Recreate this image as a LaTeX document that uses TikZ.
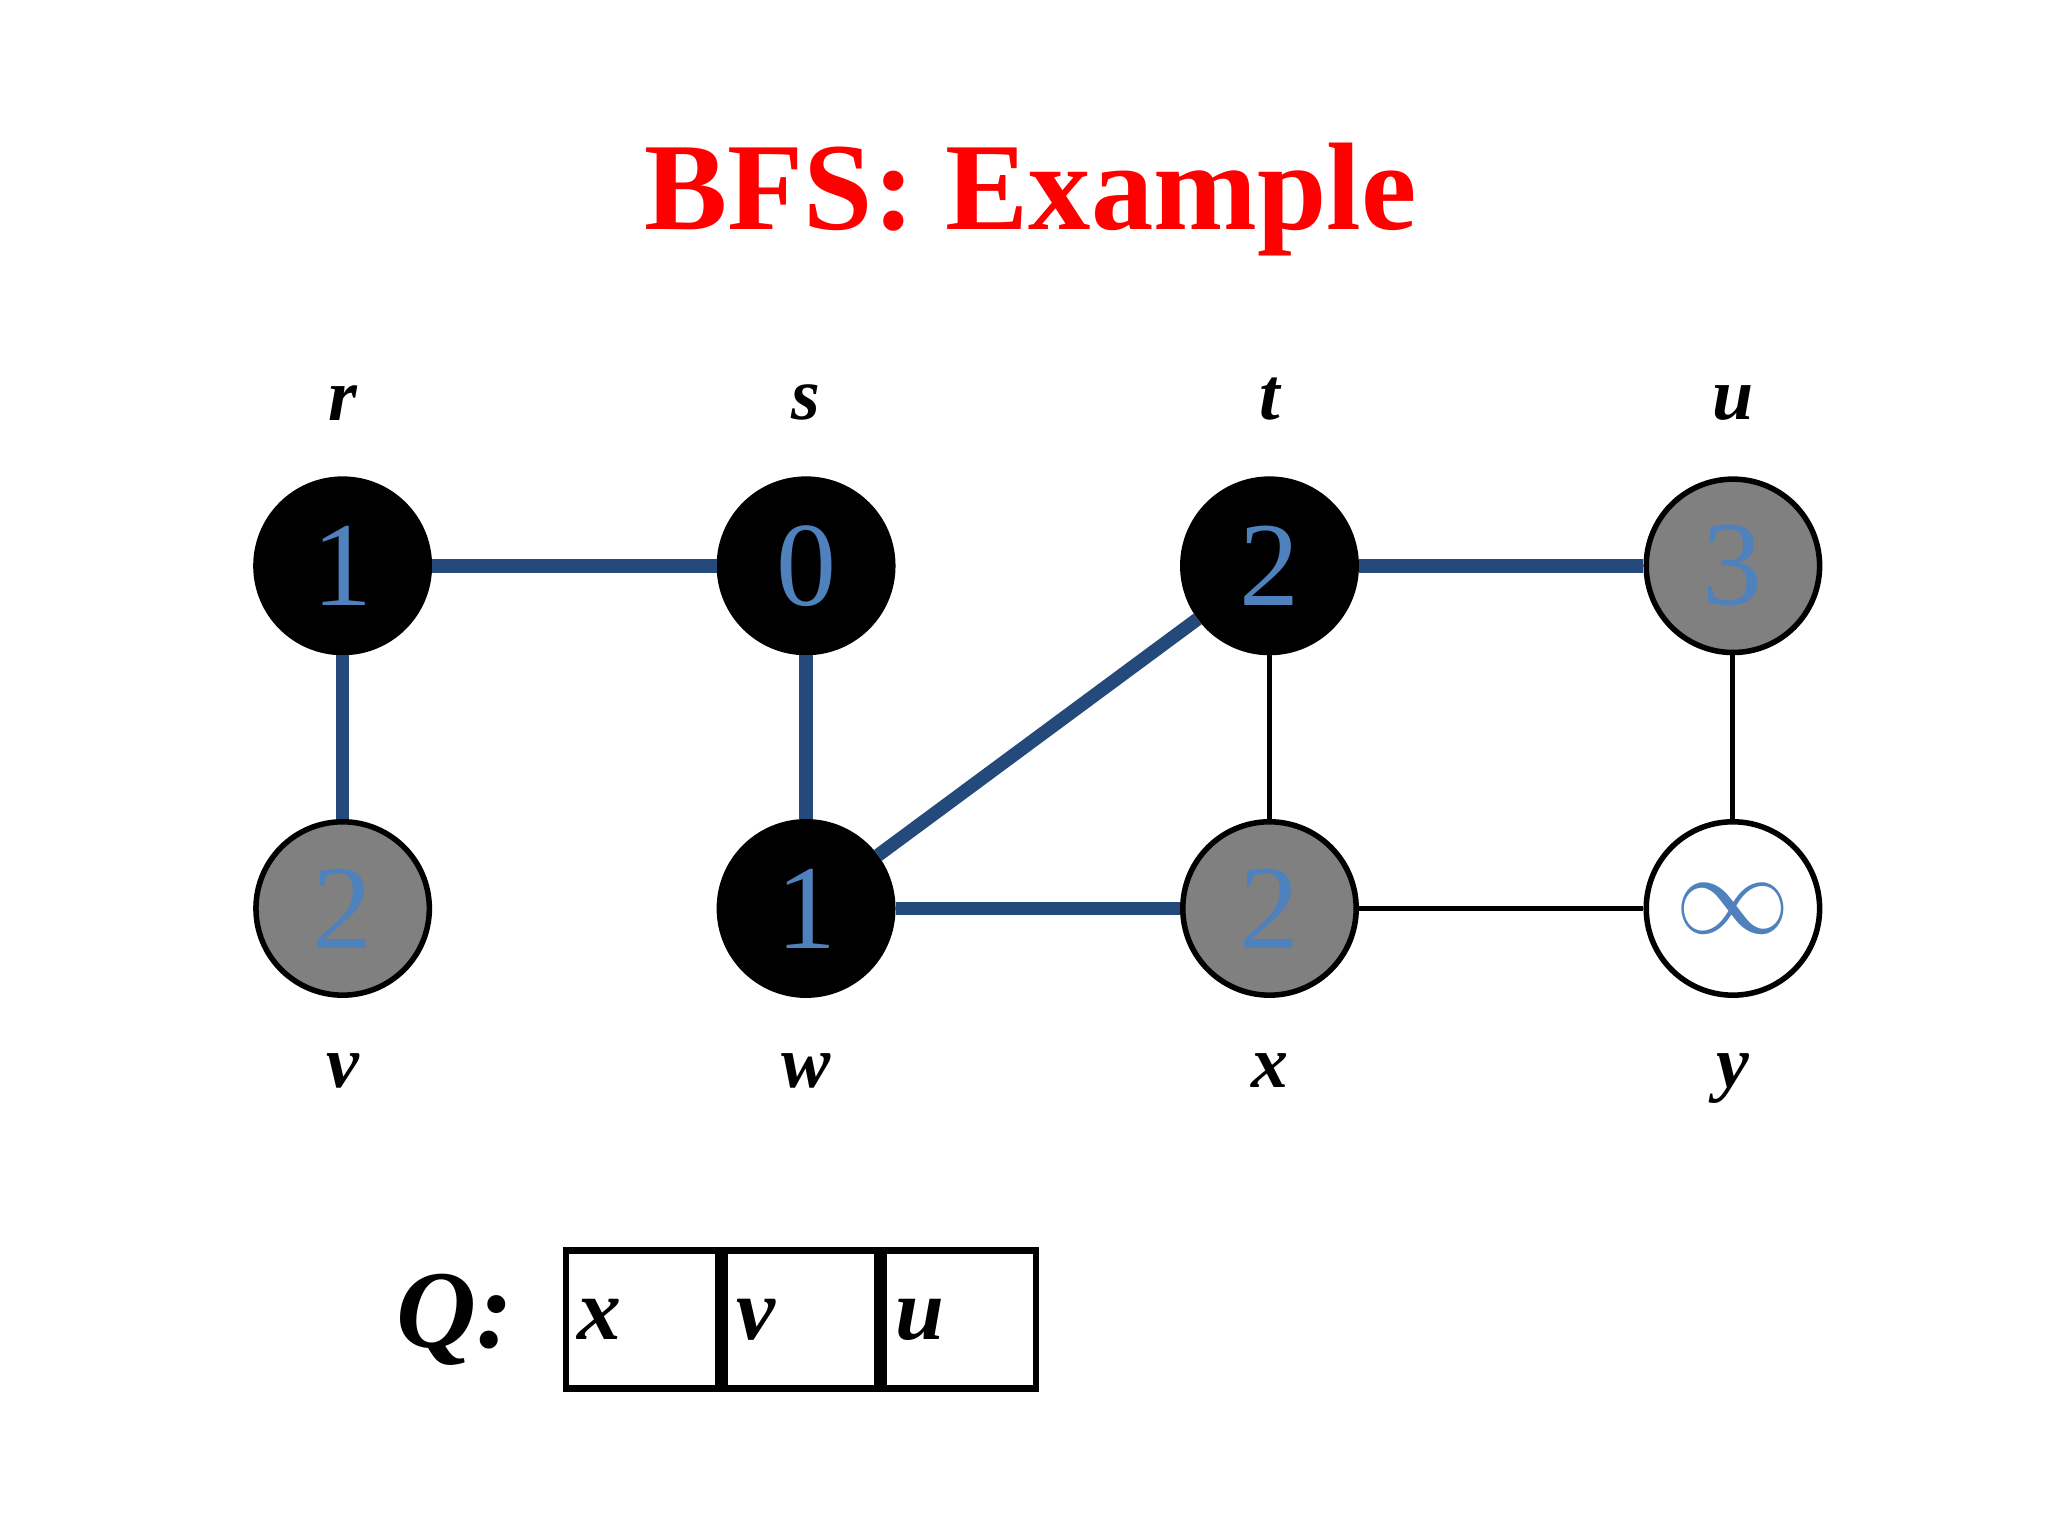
\documentclass[tikz,border=0pt]{standalone}
\usepackage{fontspec}
\setmainfont{Liberation Serif}
\usetikzlibrary{positioning}
\definecolor{treeblue}{RGB}{35,74,122}
\definecolor{numblue}{RGB}{79,129,189}
\tikzset{
  vert/.style={circle, draw=black, line width=1.2pt, minimum size=1.32cm, inner sep=0pt,
    text=numblue, font=\fontsize{26}{26}\selectfont},
  done/.style={vert, fill=black},
  seen/.style={vert, fill=gray},
  fresh/.style={vert, fill=white},
  tree/.style={treeblue, line width=2.9pt},
  plain/.style={black, line width=1.1pt},
  lbl/.style={font=\fontsize{16}{16}\selectfont\bfseries\itshape},
  qbox/.style={draw=black, line width=1.4pt, minimum width=1.16cm, minimum height=1.05cm,
    inner sep=0pt, text width=0.98cm, align=left, font=\fontsize{19}{19}\selectfont\bfseries\itshape}
}
\begin{document}
\begin{tikzpicture}[x=0.01cm, y=-0.01cm]
	\useasboundingbox (0,0) rectangle (1560,1170);
	\node[text=red, font=\fontsize{27}{27}\selectfont\bfseries] (title) at (785,152) {BFS: Example};
	% vertices
	\node[done]  (r) at (261,431) {1};
	\node[done]  (s) at (614,431) {0};
	\node[done]  (t) at (967,431) {2};
	\node[seen]  (u) at (1320,431) {3};
	\node[seen]  (v) at (261,692) {2};
	\node[done]  (w) at (614,692) {1};
	\node[seen]  (x) at (967,692) {2};
	\node[fresh] (y) at (1320,692) {$\infty$};
	% names
	\foreach \n in {r,s,t,u}
		\node[lbl, above=0.3cm of \n] {\n};
	\foreach \n in {v,w,x,y}
		\node[lbl, below=0.3cm of \n] {\n};
	% edges
	\draw[tree] (r) -- (s);
	\draw[tree] (r) -- (v);
	\draw[tree] (s) -- (w);
	\draw[tree] (w) -- (t);
	\draw[tree] (w) -- (x);
	\draw[tree] (t) -- (u);
	\draw[plain] (t) -- (x);
	\draw[plain] (u) -- (y);
	\draw[plain] (x) -- (y);
	% queue
	\node[qbox] (q1) at (489,1005) {x};
	\node[qbox, right=0pt of q1] (q2) {v};
	\node[qbox, right=0pt of q2] (q3) {u};
	\node[font=\fontsize{24}{24}\selectfont\bfseries\itshape, left=0.25cm of q1] (qname) {Q:};
\end{tikzpicture}
\end{document}
